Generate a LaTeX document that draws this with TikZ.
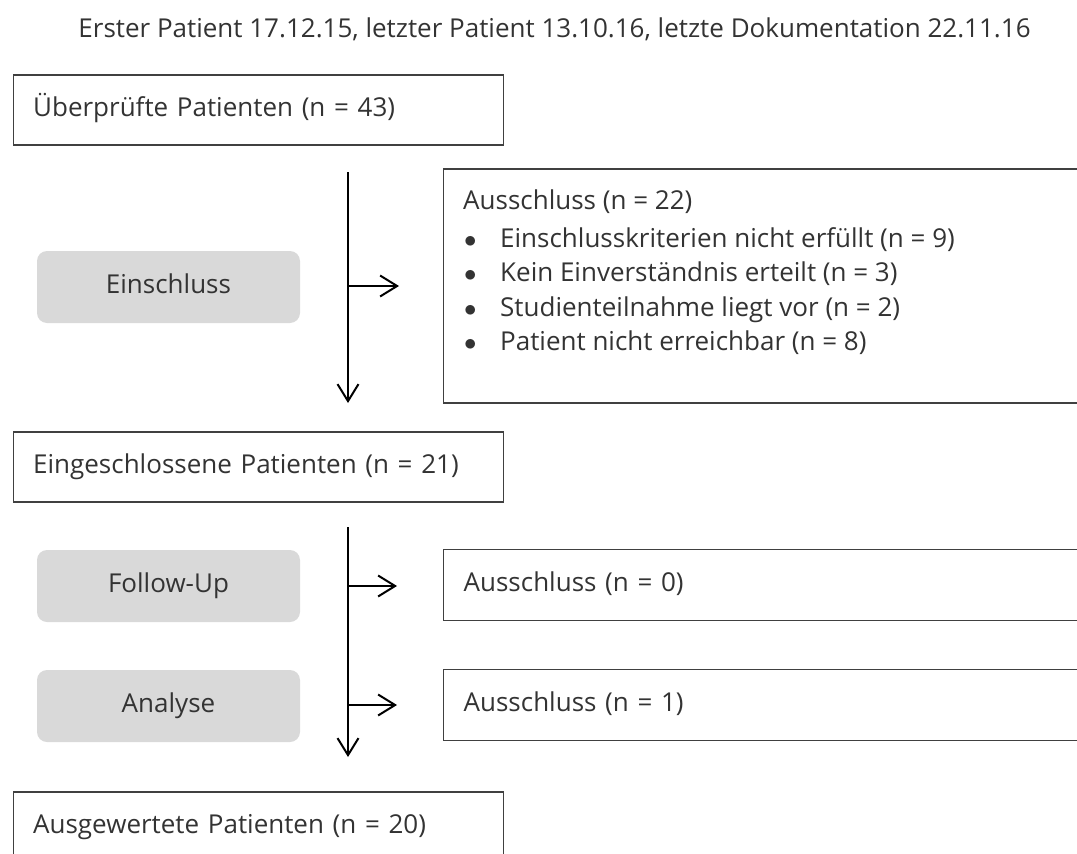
\documentclass[tikz,border=0pt]{standalone}
\usepackage{fontspec}
\setmainfont{Open Sans}
\usetikzlibrary{positioning,arrows.meta}

\newcommand{\exitem}[1]{\makebox[37pt][l]{\hspace{1pt}$\bullet$}#1}

\begin{document}
\begin{tikzpicture}[x=1pt,y=-1pt,
        every node/.style={font=\fontsize{26}{34.5}\selectfont,text=black!80},
        patbox/.style={shape=rectangle,draw=black!75,line width=1.3pt,anchor=west,minimum width=490pt,minimum height=70pt,inner xsep=20pt,text width=450pt,align=left,text height=19pt,text depth=7pt},
        phase/.style={shape=rectangle,rounded corners=10pt,fill=black!15,minimum width=263pt,minimum height=72pt,text height=19pt,text depth=7pt},
        exbox/.style={shape=rectangle,draw=black!75,line width=1.3pt,anchor=west,minimum width=700pt,minimum height=71pt,inner xsep=20pt,text width=660pt,align=left,text height=19pt,text depth=7pt},
        flow/.style={draw=black,line width=2pt,-{Straight Barb[length=17pt,width=21pt]}},
        ]
\useasboundingbox (0,0) rectangle (1077,854);
\clip (0,0) rectangle (1077,854);

\node (title) at (554.5,29) {Erster Patient 17.12.15, letzter Patient 13.10.16, letzte Dokumentation 22.11.16};

\node [patbox] (checked) at (12.5,110) {Überprüfte Patienten (n = 43)};
\node [phase] (incl) at (168.5,287) {Einschluss};
\node [exbox, minimum height=234pt] (excl1) at (443,286) {};
\node [anchor=north west, inner sep=0pt, align=left] (excl1txt) at ([xshift=20pt,yshift=-21pt]excl1.north west) {Ausschluss (n = 22)\\[3.5pt]
    \exitem{Einschlusskriterien nicht erfüllt (n = 9)}\\
    \exitem{Kein Einverständnis erteilt (n = 3)}\\
    \exitem{Studienteilnahme liegt vor (n = 2)}\\
    \exitem{Patient nicht erreichbar (n = 8)}};

\node [patbox] (included) at (12.5,467) {Eingeschlossene Patienten (n = 21)};
\node [phase] (follow) at (168.5,586) {Follow-Up};
\node [exbox] (excl2) at (443,585) {Ausschluss (n = 0)};
\node [phase] (analysis) at (168.5,706) {Analyse};
\node [exbox] (excl3) at (443,705) {Ausschluss (n = 1)};

\node [patbox] (evaluated) at (12.5,827) {Ausgewertete Patienten (n = 20)};

% Fluss
\coordinate (v1top) at (348,172);
\coordinate (v1end) at (348,403);
\coordinate (v1split) at (348,286);
\coordinate (v1out) at (399,286);
\coordinate (v2top) at (348,527);
\coordinate (v2end) at (348,757);
\coordinate (v2split) at (348,586);
\coordinate (v2out) at (397,586);
\coordinate (v3split) at (348,705);
\coordinate (v3out) at (397,705);

\draw[flow] (v1top) -- (v1end);
\draw[flow] (v1split) -- (v1out);

\draw[flow] (v2top) -- (v2end);
\draw[flow] (v2split) -- (v2out);
\draw[flow] (v3split) -- (v3out);

\end{tikzpicture}
\end{document}
